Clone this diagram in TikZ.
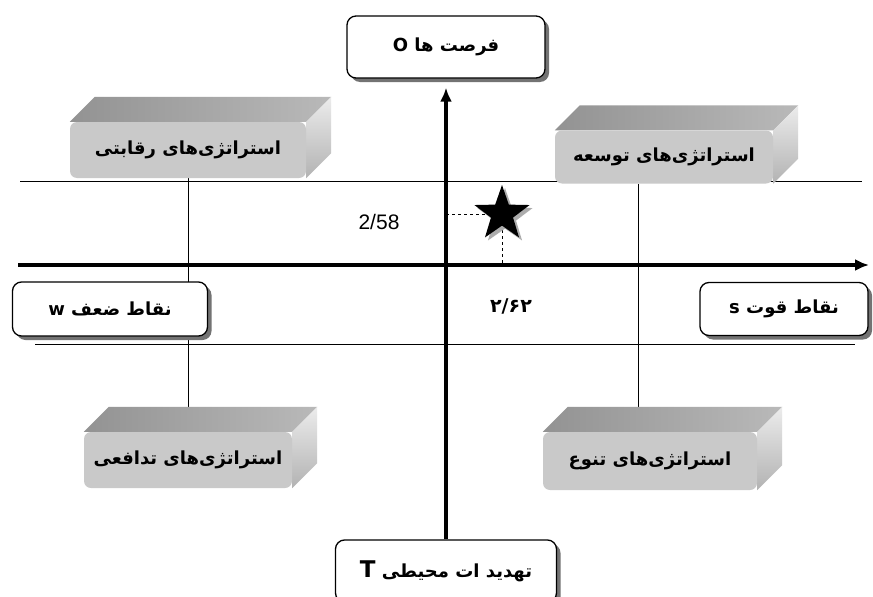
\documentclass[tikz,border=0pt]{standalone}
\usepackage{fontspec}
\setmainfont{Liberation Sans}
\newfontfamily\farsi[Script=Arabic]{DejaVu Sans}
\TeXXeTstate=1
\usetikzlibrary{shapes.geometric,shadows,arrows.meta,backgrounds}

\begin{document}
\begin{tikzpicture}[x=1pt, y=-1pt]
\tikzstyle{every node} = [font=\farsi\bfseries\fontsize{18}{21}\selectfont]
\tikzstyle{axisbox} = [rectangle, rounded corners=9pt, draw=black, line width=1.3pt, fill=white, minimum height=58pt, drop shadow={shadow xshift=4pt, shadow yshift=-4pt, fill=black!55, opacity=1}]
\tikzstyle{stratbox} = [rectangle, rounded corners=7pt, fill=gray!42, minimum height=56pt]
\tikzstyle{thinline} = [line width=1pt]
\tikzstyle{axis} = [line width=3.4pt, -{Latex[length=14pt,width=12pt]}]
\clip (0,0) rectangle (873,597);

% the four sides of the plane
\node[axisbox, minimum width=198pt, minimum height=62pt] (opp) at (446,47) {\beginR فرصت ها O\endR};
\node[axisbox, minimum width=221pt, minimum height=62pt] (threat) at (446,571) {\beginR تهدید ات محیطی {\fontsize{23}{26}\selectfont T}\endR};
\node[axisbox, minimum width=195pt, minimum height=54pt] (weak) at (110,309) {\beginR نقاط ضعف w\endR};
\node[axisbox, minimum width=168pt, minimum height=53pt] (strength) at (784,309) {\beginR نقاط قوت s\endR};

% strategy boxes
\node[stratbox, minimum width=236pt] (comp) at (188,150) {\beginR استراتژی‌های رقابتی\endR};
\node[stratbox, minimum width=218pt, minimum height=53pt] (growth) at (664,157) {\beginR استراتژی‌های توسعه\endR};
\node[stratbox, minimum width=208pt] (defense) at (188,460) {\beginR استراتژی‌های تدافعی\endR};
\node[stratbox, minimum width=214pt, minimum height=58pt] (divers) at (650,461) {\beginR استراتژی‌های تنوع\endR};

% values
\node[font=\normalfont\fontsize{21}{24}\selectfont] (v58) at (379,222) {2/58};
\node[font=\farsi\bfseries\fontsize{19}{22}\selectfont] (v62) at (511,306) {۲/۶۲};

\coordinate (y58) at (446,214);
\coordinate (pt) at (502,214);
\coordinate (x62) at (502,263);
\coordinate (xl) at (18,265);
\coordinate (xr) at (869,265);

\begin{scope}[on background layer]
\fill[white] (0,0) rectangle (873,597);
\draw[thinline] (20,181) -- (862,181);
\draw[thinline] (35,344) -- (855,344);
\draw[thinline] (comp.south) -- (defense.north);
\draw[thinline] ([xshift=-26pt]growth.south) -- ([xshift=-12pt]divers.north);
\foreach \n in {comp, growth, defense, divers} {
  \shade[left color=gray!85, right color=gray!55] (\n.north west) -- (\n.north east) -- ([shift={(25,-25)}]\n.north east) -- ([shift={(25,-25)}]\n.north west) -- cycle;
  \shade[top color=gray!15, bottom color=gray!60] (\n.north east) -- ([shift={(25,-25)}]\n.north east) -- ([shift={(25,-25)}]\n.south east) -- (\n.south east) -- cycle;
}
\end{scope}

% axes
\draw[axis] (xl) -- (xr);
\draw[axis, shorten >=9pt] (threat.north) -- (opp.south);
\draw[dashed, thinline] (y58) -- (pt) -- (x62);
\node[star, star points=5, star point ratio=2.5, fill=black, minimum size=58pt, inner sep=0pt, drop shadow={shadow xshift=3pt, shadow yshift=-3pt, fill=gray!65, opacity=1}] (star) at (pt) {};
\end{tikzpicture}
\end{document}
